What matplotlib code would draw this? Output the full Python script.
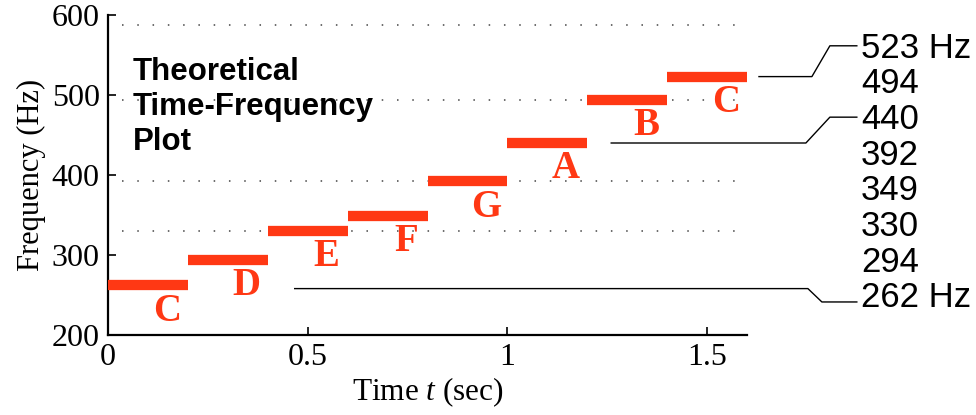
import matplotlib.pyplot as plt
import numpy as np

# Scale notes: one note every 0.2 s
notes = ['C', 'D', 'E', 'F', 'G', 'A', 'B', 'C']
freqs = [262, 294, 330, 349, 392, 440, 494, 523]
note_len = 0.2

# Staff lines (treble clef E4, G4, B4, D5)
staff = [330, 392, 494, 587]

# Frequency list on the right
freq_labels = ['523 Hz', '494', '440', '392', '349', '330', '294', '262 Hz']

red = '#ff3814'
plt.rcParams['mathtext.fontset'] = 'custom'
plt.rcParams['mathtext.rm'] = 'Liberation Serif'
plt.rcParams['mathtext.it'] = 'Liberation Serif:italic'

fig = plt.figure(figsize=(9.76, 4.15), dpi=100)
ax = fig.add_axes([108 / 976, 1 - 335 / 415, 639 / 976, 320 / 415])

for f in staff:
    ax.plot([0.035, 1.6], [f, f], color='#444444', lw=1.1,
            linestyle=(0, (1, 9)), zorder=1)

starts = np.arange(len(freqs)) * note_len
for t0, f, n in zip(starts, freqs, notes):
    ax.plot([t0, t0 + note_len], [f, f], color=red, lw=7.4,
            solid_capstyle='butt', zorder=3)
    ax.text(t0 + 0.147, f - 32, n, color=red, fontsize=28,
            fontweight='bold', family='Liberation Serif',
            ha='center', va='center')

ax.set_xlim(0, 1.6)
ax.set_ylim(200, 600)
ax.set_xticks([0, 0.5, 1, 1.5])
ax.set_xticklabels(['0', '0.5', '1', '1.5'])
ax.set_yticks([200, 300, 400, 500, 600])
for s in ['top', 'right']:
    ax.spines[s].set_visible(False)
for s in ['left', 'bottom']:
    ax.spines[s].set_linewidth(1.6)
ax.tick_params(direction='in', length=6, width=1.2, labelsize=23, pad=6)
for lbl in ax.get_xticklabels() + ax.get_yticklabels():
    lbl.set_family('Liberation Serif')

ax.set_xlabel('Time $t$ (sec)', fontsize=22.5, family='Liberation Serif',
              labelpad=2)
ax.set_ylabel('Frequency (Hz)', fontsize=22, family='Liberation Serif',
              labelpad=4)

ax.text(0.0625, 485, 'Theoretical\nTime-Frequency\nPlot', fontsize=22.5,
        fontweight='bold', family='Liberation Sans', va='center',
        ha='left', linespacing=1.2)

# Frequency labels, evenly stacked to the right of the axes
label_y = [558.5 - i * 44.6 for i in range(len(freq_labels))]
for y, s in zip(label_y, freq_labels):
    ax.text(1.885, y, s, fontsize=25, family='Liberation Sans',
            ha='left', va='center', clip_on=False)

# Elbow connectors from three notes to their labels
conn = [(1.63, 523, 1.7625, 1.8075, label_y[0] + 3),
        (1.26, 440, 1.7475, 1.8075, label_y[2] + 3),
        (0.4675, 258, 1.7525, 1.7875, label_y[7] - 5)]
for x0, y0, xa, xb, yl in conn:
    ax.plot([x0, xa, xb, 1.875], [y0, y0, yl, yl], color='black',
            lw=1.0, clip_on=False, zorder=2)

fig.savefig('out.png', dpi=100)
